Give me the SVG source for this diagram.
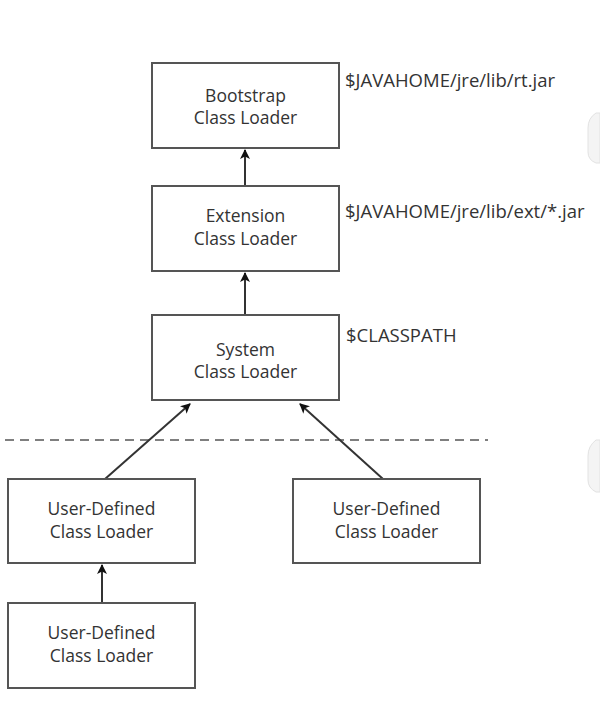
<svg xmlns="http://www.w3.org/2000/svg" width="600" height="719" viewBox="0 0 600 719">
<defs>
<style>
.box{fill:#fff;stroke:#555;stroke-width:2}
.t{font-family:"Open Sans","Noto Sans",sans-serif;font-size:17.5px;fill:#333;text-anchor:middle}
.lbl{font-family:"Open Sans","Noto Sans",sans-serif;font-size:18.5px;fill:#333}
.edge{stroke:#333;stroke-width:2;fill:none;marker-end:url(#ah)}
.dash{stroke:#555;stroke-width:1.6;stroke-dasharray:9,6;fill:none}
.deco{fill:#f4f4f4;stroke:#e2e2e2;stroke-width:1}
</style>
<marker id="ah" markerWidth="10" markerHeight="10" refX="9" refY="5" orient="auto" markerUnits="userSpaceOnUse">
<path d="M0,0 L10,5 L0,10 L2.5,5 Z" fill="#111"/>
</marker>
</defs>
<rect width="600" height="719" fill="#fff"/>
<path class="deco" d="M600,113 L596,113 Q588,118 588,128 L588,152 Q588,160 596,163 L600,163 Z"/>
<path class="deco" d="M600,440 L596,440 Q588,446 588,456 L588,480 Q588,488 596,492 L600,492 Z"/>
<line class="dash" x1="5" y1="440" x2="488" y2="440"/>
<g id="connectors">
<line class="edge" x1="245" y1="186" x2="245" y2="150"/>
<line class="edge" x1="245" y1="315" x2="245" y2="273"/>
<line class="edge" x1="105" y1="479" x2="190" y2="404"/>
<line class="edge" x1="383" y1="479" x2="300" y2="404"/>
<line class="edge" x1="102" y1="603" x2="102" y2="565"/>
</g>
<g id="bootstrap">
<rect class="box" x="152" y="63" width="187" height="85"/>
<text class="t" x="245.5" y="102">Bootstrap</text>
<text class="t" x="245.5" y="124">Class Loader</text>
</g>
<g id="extension">
<rect class="box" x="152" y="186" width="187" height="85"/>
<text class="t" x="245.5" y="222">Extension</text>
<text class="t" x="245.5" y="245">Class Loader</text>
</g>
<g id="system">
<rect class="box" x="152" y="315" width="187" height="85"/>
<text class="t" x="245.5" y="356">System</text>
<text class="t" x="245.5" y="378">Class Loader</text>
</g>
<g id="user1">
<rect class="box" x="8" y="479" width="187" height="84"/>
<text class="t" x="101.5" y="515">User-Defined</text>
<text class="t" x="101.5" y="538">Class Loader</text>
</g>
<g id="user2">
<rect class="box" x="293" y="479" width="187" height="84"/>
<text class="t" x="386.5" y="515">User-Defined</text>
<text class="t" x="386.5" y="538">Class Loader</text>
</g>
<g id="user3">
<rect class="box" x="8" y="603" width="187" height="85"/>
<text class="t" x="101.5" y="639">User-Defined</text>
<text class="t" x="101.5" y="662">Class Loader</text>
</g>
<g id="labels">
<text class="lbl" x="345" y="87">$JAVAHOME/jre/lib/rt.jar</text>
<text class="lbl" x="345" y="218">$JAVAHOME/jre/lib/ext/*.jar</text>
<text class="lbl" x="346" y="342">$CLASSPATH</text>
</g>
</svg>
